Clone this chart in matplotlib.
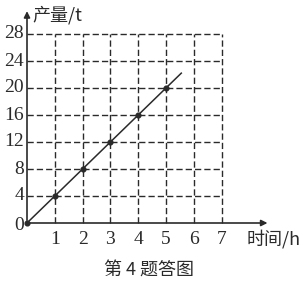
import matplotlib.pyplot as plt

# data
hours = [0, 1, 2, 3, 4, 5]
output = [0, 4, 8, 12, 16, 20]
line_end = (5.55, 22.2)
x_ticks = [1, 2, 3, 4, 5, 6, 7]
y_ticks = [4, 8, 12, 16, 20, 24, 28]

ink = '#2a2a2a'
serif = ['Liberation Serif', 'DejaVu Serif']
cjk = ['Noto Sans CJK SC', 'DejaVu Sans']

fig = plt.figure(figsize=(3.03, 2.83), dpi=100)
ax = fig.add_axes([0, 0, 1, 1])
ax.axis('off')
# pixel mapping: x px = 27 + 27.8*x, y px (from top) = 223 - 6.75*y
ax.set_xlim(-27 / 27.8, (303 - 27) / 27.8)
ax.set_ylim((223 - 283) / 6.75, 223 / 6.75)

dash = (0, (4.5, 2.2))
ax.vlines(x_ticks, 0, max(y_ticks), colors=ink, linestyles=dash, lw=1.0)
ax.hlines(y_ticks, 0, max(x_ticks), colors=ink, linestyles=dash, lw=1.0)

# axes with arrows
ax.annotate('', xy=(8.75, 0), xytext=(0, 0),
            arrowprops=dict(arrowstyle='-|>', color=ink, lw=1.2, mutation_scale=9))
ax.annotate('', xy=(0, 31.8), xytext=(0, 0),
            arrowprops=dict(arrowstyle='-|>', color=ink, lw=1.2, mutation_scale=9))

# production line
ax.plot([0, line_end[0]], [0, line_end[1]], color=ink, lw=1.1)
ax.plot(hours, output, 'o', color=ink, ms=3.4)

for x in x_ticks:
    ax.text(x, -2.4, str(x), ha='center', va='center', fontsize=14, family=serif, color=ink)
for y in y_ticks:
    ax.text(-0.1, y, str(y), ha='right', va='center', fontsize=14, family=serif, color=ink)
ax.text(-0.1, -0.3, '0', ha='right', va='center', fontsize=14, family=serif, color=ink)

ax.text(0.2, 30.8, '产量/t', ha='left', va='center', fontsize=13, family=cjk, color=ink)
ax.text(7.9, -2.4, '时间/h', ha='left', va='center', fontsize=13, family=cjk, color=ink)
ax.text(4.4, -7.0, '第 4 题答图', ha='center', va='center', fontsize=13, family=cjk, color=ink)

fig.savefig('out.png', dpi=100)
